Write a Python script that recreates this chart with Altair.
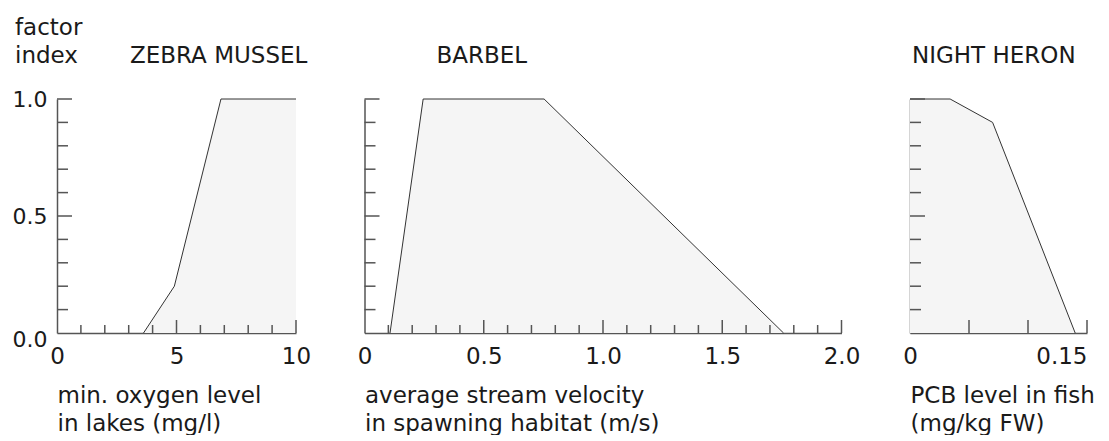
import altair as alt
import pandas as pd

FONT = "DejaVu Sans"
TXT = "#1a1a1a"
AX = "#555555"
FILL = "#f5f5f5"
LINE = "#333333"
H = 234

# ---------------- data ----------------
zebra_x = [3.62, 4.91, 6.86, 10.0]
zebra_y = [0.0, 0.2, 1.0, 1.0]

barbel_x = [0.107, 0.246, 0.753, 1.757]
barbel_y = [0.0, 1.0, 1.0, 0.0]

heron_x = [0.0, 0.034, 0.07, 0.14]
heron_y = [1.0, 1.0, 0.9, 0.0]

zebra_minor_x = [1, 2, 3, 4, 6, 7, 8, 9]
zebra_major_x = [5, 10]
barbel_minor_x = [0.1, 0.2, 0.3, 0.4, 0.6, 0.7, 0.8, 0.9, 1.1, 1.2, 1.3, 1.4,
                  1.6, 1.7, 1.8, 1.9]
barbel_major_x = [0.5, 1.0, 1.5, 2.0]
heron_major_x = [0.05, 0.10, 0.15]
y_minor = [0.1, 0.2, 0.3, 0.4, 0.6, 0.7, 0.8, 0.9]
y_major = [0.5, 1.0]

titles = ["ZEBRA MUSSEL", "BARBEL", "NIGHT HERON"]
xtitles = [["min. oxygen level", "in lakes (mg/l)"],
           ["average stream velocity", "in spawning habitat (m/s)"],
           ["PCB level in fish", "(mg/kg FW)"]]
y_title = ["factor", "index"]


def text_layer(txt, px, py, size=23):
    return alt.Chart(pd.DataFrame({"t": [txt]})).mark_text(
        align="left", baseline="alphabetic", font=FONT, fontSize=size, color=TXT
    ).encode(x=alt.value(px), y=alt.value(py), text="t:N")


def panel(xs, ys, domain, width, minor_x, major_x, xvalues, labelexpr,
          xtitle, title, title_dx, show_ylabels, label_align=None):
    xscale = alt.Scale(domain=domain, nice=False, zero=False)
    yscale = alt.Scale(domain=[0, 1], nice=False)
    df = pd.DataFrame({"x": xs, "y": ys})

    xaxis_kw = dict(
        values=xvalues, labelExpr=labelexpr, ticks=False, tickSize=0,
        domainColor=AX, domainWidth=1.5, grid=False,
        labelFont=FONT, labelFontSize=23, labelColor=TXT, labelPadding=12,
        labelFlush=False, labelOverlap=False,
        title=xtitle, titleFont=FONT, titleFontSize=23, titleFontWeight="normal",
        titleColor=TXT, titleAnchor="start", titleAlign="left",
        titleLineHeight=28, titlePadding=16,
    )
    if label_align is not None:
        xaxis_kw["labelAlign"] = label_align
    xaxis = alt.Axis(**xaxis_kw)
    if show_ylabels:
        yaxis = alt.Axis(values=[0, 0.5, 1.0], format=".1f", ticks=False, tickSize=0,
                         domainColor=AX, domainWidth=1.5, grid=False,
                         labelFont=FONT, labelFontSize=22, labelColor=TXT,
                         labelPadding=10, title="",
                         labelOffset={"expr": "datum.value == 0 ? 6 : 0"})
    else:
        yaxis = alt.Axis(labels=False, ticks=False, tickSize=0, domainColor=AX,
                         domainWidth=1.5, grid=False, title="")

    X = lambda: alt.X("x:Q", scale=xscale, axis=xaxis)
    Y = lambda: alt.Y("y:Q", scale=yscale, axis=yaxis)

    area = alt.Chart(df).mark_area(color=FILL, opacity=1).encode(x=X(), y=Y())
    line = alt.Chart(df).mark_line(color=LINE, strokeWidth=1).encode(x=X(), y=Y())
    layers = [area, line]

    def xticks(vals, length):
        return alt.Chart(pd.DataFrame({"x": vals})).mark_rule(
            color=AX, strokeWidth=1.5).encode(
            x=X(), y=alt.value(H), y2=alt.value(H - length))

    def yticks(vals, length):
        return alt.Chart(pd.DataFrame({"y": vals})).mark_rule(
            color=AX, strokeWidth=1.5).encode(
            y=Y(), x=alt.value(0), x2=alt.value(length))

    if minor_x:
        layers.append(xticks(minor_x, 8))
    layers.append(xticks(major_x, 13))
    layers.append(yticks(y_minor, 11))
    layers.append(yticks(y_major, 15))
    layers.append(text_layer(title, title_dx, 63 - 99))
    return alt.layer(*layers).properties(width=width, height=H)


p1 = panel(zebra_x, zebra_y, [0, 10], 239, zebra_minor_x, zebra_major_x,
           [0, 5, 10], "format(datum.value, 'd')", xtitles[0], titles[0], 73, True)
p1 = alt.layer(p1, text_layer(y_title[0], -42, 35 - 99),
               text_layer(y_title[1], -42, 63 - 99))

p2 = panel(barbel_x, barbel_y, [0, 2], 477, barbel_minor_x, barbel_major_x,
           [0, 0.5, 1.0, 1.5, 2.0],
           "datum.value == 0 ? '0' : format(datum.value, '.1f')",
           xtitles[1], titles[1], 72, False)

p3 = panel(heron_x, heron_y, [0, 0.15], 177, [], heron_major_x,
           [0, 0.15], "datum.value == 0 ? '0' : format(datum.value, '.2f')",
           xtitles[2], titles[2], 2, False,
           label_align={"expr": "datum.value > 0.1 ? 'right' : 'center'"})

chart = alt.hconcat(p1, p2, p3, spacing=68.5, bounds="flush").properties(
    padding={"left": 4, "top": 9, "right": 0, "bottom": 0}
).configure(background="white").configure_view(stroke="transparent", strokeOpacity=0)

chart.save("out.html", embed_options={"renderer": "svg", "actions": False})
